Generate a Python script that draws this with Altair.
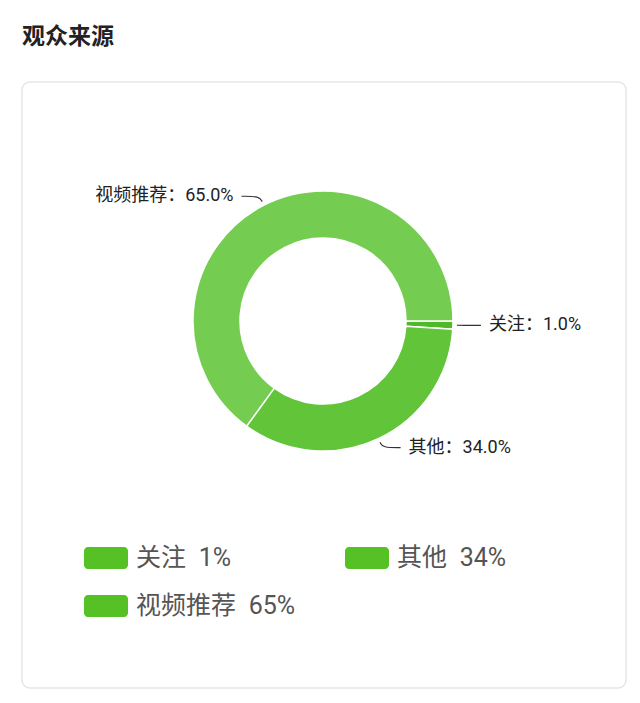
import math
import altair as alt
import pandas as pd

# ---- data ----
categories = ["关注", "其他", "视频推荐"]
values = [1.0, 34.0, 65.0]
slice_colors = ["#4fb92c", "#62c438", "#74cd50"]
legend_color = "#56c125"

# ---- layout constants (pixels relative to donut centre) ----
INNER_R, OUTER_R = 83, 130
LEAD_R0, LEAD_R1, LEAD_H = 134, 140, 18
LABEL_GAP = 8
SW_W, SW_H = 44, 22
LEG_X0, LEG_Y0, LEG_DX, LEG_DY, LEG_TXT = -239, 226, 261, 48, 8

total = sum(values)
rows, lead_rows, leg_rows = [], [], []
cum = 0.0
for i, (c, v) in enumerate(zip(categories, values)):
    mid = math.pi / 2 + 2 * math.pi * (cum + v / 2) / total
    cum += v
    s, co = math.sin(mid), -math.cos(mid)
    side = 1 if s >= 0 else -1
    p0 = (LEAD_R0 * s, LEAD_R0 * co)
    p1 = (LEAD_R1 * s, LEAD_R1 * co)
    p2 = (p1[0] + side * LEAD_H, p1[1])
    for k, p in enumerate([p0, p1, p2]):
        lead_rows.append({"cat": c, "k": k, "x": p[0], "y": p[1]})
    rows.append({
        "cat": c, "value": v, "idx": i, "cx": 0, "cy": 0,
        "lx": p2[0] + side * LABEL_GAP, "ly": p2[1], "side": side,
        "label": f"{c}：{v:.1f}%",
    })
    col, row = i % 2, i // 2
    x0 = LEG_X0 + col * LEG_DX
    y0 = LEG_Y0 + row * LEG_DY
    leg_rows.append({
        "cat": c, "x0": x0, "x1": x0 + SW_W, "y0": y0, "y1": y0 + SW_H,
        "tx": x0 + SW_W + LEG_TXT, "ty": y0 + SW_H / 2,
        "text": f"{c}\u2002{int(v)}%",
    })

df = pd.DataFrame(rows)
lead = pd.DataFrame(lead_rows)
leg = pd.DataFrame(leg_rows)

W, H = 604, 606
xs = alt.Scale(domain=[-301, 303])
ys = alt.Scale(domain=[-239, 367], reverse=True)
FONT = "Noto Sans CJK SC"
MIXED = "Roboto, 'Noto Sans CJK SC'"

arc = alt.Chart(df).mark_arc(
    innerRadius=INNER_R, outerRadius=OUTER_R, stroke="white", strokeWidth=1.5
).encode(
    x=alt.X("cx:Q", scale=xs, axis=None),
    y=alt.Y("cy:Q", scale=ys, axis=None),
    theta=alt.Theta("value:Q", stack=True,
                    scale=alt.Scale(range=[math.pi / 2, math.pi / 2 + 2 * math.pi])),
    order=alt.Order("idx:Q"),
    color=alt.Color("cat:N", scale=alt.Scale(domain=categories, range=slice_colors), legend=None),
)

leaders = alt.Chart(lead).mark_line(
    color="#333333", strokeWidth=1.2, interpolate="basis"
).encode(
    x=alt.X("x:Q", scale=xs, axis=None),
    y=alt.Y("y:Q", scale=ys, axis=None),
    detail="cat:N",
    order="k:Q",
)

lab_right = alt.Chart(df).transform_filter("datum.side > 0").mark_text(
    align="left", baseline="middle", font=MIXED, fontSize=18, color="#222222"
).encode(
    x=alt.X("lx:Q", scale=xs, axis=None),
    y=alt.Y("ly:Q", scale=ys, axis=None),
    text="label:N",
)
lab_left = alt.Chart(df).transform_filter("datum.side < 0").mark_text(
    align="right", baseline="middle", font=MIXED, fontSize=18, color="#222222"
).encode(
    x=alt.X("lx:Q", scale=xs, axis=None),
    y=alt.Y("ly:Q", scale=ys, axis=None),
    text="label:N",
)

swatch = alt.Chart(leg).mark_rect(color=legend_color, cornerRadius=4).encode(
    x=alt.X("x0:Q", scale=xs, axis=None),
    x2="x1:Q",
    y=alt.Y("y0:Q", scale=ys, axis=None),
    y2="y1:Q",
)
leg_text = alt.Chart(leg).mark_text(
    align="left", baseline="middle", font=MIXED, fontSize=25, color="#555555"
).encode(
    x=alt.X("tx:Q", scale=xs, axis=None),
    y=alt.Y("ty:Q", scale=ys, axis=None),
    text="text:N",
)

chart = alt.layer(arc, leaders, lab_right, lab_left, swatch, leg_text).properties(
    width=W, height=H,
    autosize=alt.AutoSizeParams(type="none"),
    padding={"left": 14, "top": 74, "right": 6, "bottom": 7},
    title=alt.TitleParams("观众来源", anchor="start", font=FONT, fontSize=23,
                          fontWeight="bold", color="#222222", offset=33, frame="group"),
).configure_view(
    stroke="#e6e6e6", strokeWidth=1.5, cornerRadius=8
)

chart.save("out.html", embed_options={"renderer": "svg", "actions": False})
